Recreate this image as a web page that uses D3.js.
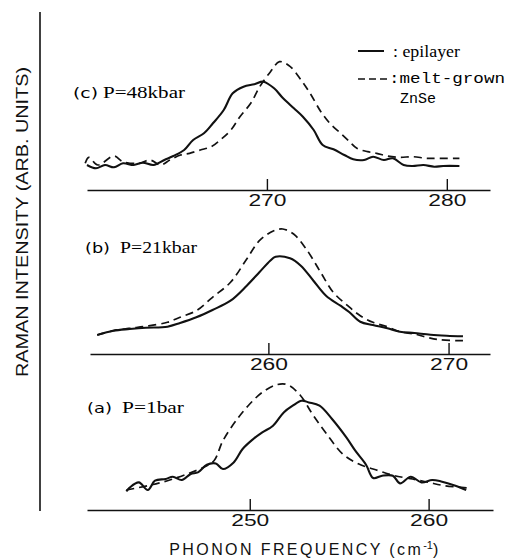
<!DOCTYPE html>
<html>
<head>
<meta charset="utf-8">
<script src="https://cdn.jsdelivr.net/npm/d3@7"></script>
<style>
  body { margin: 0; background: #fff; }
  svg { display: block; }
</style>
</head>
<body>
<div id="chart"></div>
<script>
// panels from top to bottom
const panelNames = ["(c)", "(b)", "(a)"];
const pressures = ["P=48kbar", "P=21kbar", "P=1bar"];
const xDomains = [[260, 282.4], [250.1, 272.3], [240.9, 263.6]];
const tickValues = [[270, 280], [260, 270], [250, 260]];

// [frequency (cm-1), intensity (arb.)]
const epiC = [[260.0,25],[260.5,21.7],[261.0,25],[261.5,22.7],[262.0,26.7],[262.6,25],[263.1,27.3],[263.7,25],
  [264.3,30],[264.8,34],[265.4,40],[265.9,50],[266.5,56.7],[267.0,66.7],[267.6,80],[268.1,96.7],[268.7,103.3],
  [269.3,105.7],[269.8,108.3],[270.4,101.7],[270.9,91.7],[271.5,81.7],[272.0,73.3],[272.6,60],[273.1,45],
  [273.7,40.7],[274.3,35],[274.8,30.7],[275.4,30],[275.9,33.3],[276.5,30],[277.0,31.7],[277.6,25],[278.1,24],
  [278.7,25],[279.3,23.3],[279.8,24],[280.7,24]];
const meltC = [[259.9,26.7],[260.1,32.7],[260.6,25],[261.5,34],[262.0,28.3],[262.9,26.7],[263.5,30],[264.1,25],
  [264.6,30],[265.2,35],[265.7,36.7],[266.3,40],[266.9,43.3],[267.4,50],[268.0,60],[268.5,73.3],[269.1,86.7],
  [269.6,103.3],[270.2,118.3],[270.7,128.3],[271.3,123.3],[271.9,110],[272.4,96.7],[273.0,78.3],[273.5,66.7],
  [274.1,56.7],[274.6,48.3],[275.0,41.7],[275.6,38.3],[276.1,36.7],[276.7,34],[277.4,32.7],[278.1,33.3],
  [278.9,31.7],[279.6,31.7],[280.7,31.7]];

const epiB = [[250.5,19],[251.4,23.3],[252.3,25],[253.2,26.3],[254.4,27.3],[255.1,31],[256.0,36.7],[256.9,44],
  [257.9,53.3],[258.8,68.3],[259.5,81.7],[260.1,93.3],[260.4,97.3],[261.2,95.7],[261.8,88.3],[262.5,73.3],
  [263.2,58.3],[264.0,48.3],[264.5,41.7],[265.1,32.3],[265.8,29],[266.6,25.7],[267.3,22.3],[268.1,21],
  [269.0,19.3],[269.9,18.3],[270.8,17.7]];
const meltB = [[250.5,19],[251.4,23.3],[252.3,25.7],[253.2,27.7],[254.4,31.7],[255.1,36.7],[256.0,43.3],
  [256.9,56.7],[257.9,71.7],[258.8,95],[259.5,113.3],[260.3,123.3],[260.8,125],[261.4,120],[262.1,105],
  [262.9,81.7],[263.6,61.7],[264.4,48.3],[265.1,38.3],[265.8,31.7],[266.6,27.3],[267.3,22.3],[268.1,20],
  [268.8,16.7],[269.5,14.3],[270.8,13.3]];

const epiA = [[243.1,18.6],[243.3,22.6],[243.8,27.6],[244.3,20],[244.7,29.3],[245.3,31],[245.7,33.3],[246.2,30],
  [246.7,36],[247.1,37.6],[247.6,45.3],[248.1,46.6],[248.5,41],[249.1,47.6],[249.6,61],[250.2,71],[250.7,77.6],
  [251.3,84.3],[251.9,97.6],[252.4,104.3],[252.9,109.3],[253.3,107.6],[253.9,104.3],[254.6,91],[255.4,72.6],
  [255.9,59.3],[256.5,45.3],[256.9,32],[257.4,34.3],[258.0,34.3],[258.4,26.6],[259.0,33.3],[259.6,27.6],
  [260.2,30],[260.7,28.6],[261.5,24.3],[262.1,20]];
const meltA = [[243.1,20],[244.3,24.3],[245.4,29.3],[246.5,36],[247.4,42.6],[248.0,49.3],[248.5,69.3],[249.3,91],
  [250.0,106],[250.7,117.6],[251.5,125.3],[252.1,125.3],[252.8,115.3],[253.5,96],[254.3,76],[255.2,56],
  [256.1,46],[257.2,39.3],[258.1,34.3],[259.1,31],[260.0,27.6],[260.9,24.3],[262.2,22]];

const epiSeries = [epiC, epiB, epiA];
const meltSeries = [meltC, meltB, meltA];

const width = 507, height = 558;
const axisY = [190, 354, 510];
const xRanges = [[87, 490], [90, 490], [87, 493]];
const labelPos = [{x: 73, px: 103, pw: 82, y: 98}, {x: 85, px: 120, pw: 77, y: 253}, {x: 87, px: 122, pw: 62, y: 413}];

const svg = d3.select("#chart")
  .append("svg")
  .attr("width", width)
  .attr("height", height);

// left intensity line
svg.append("line")
  .attr("x1", 40).attr("y1", 12)
  .attr("x2", 40).attr("y2", 511)
  .attr("stroke", "#111")
  .attr("stroke-width", 1.6);

panelNames.forEach(function(name, i) {
  const x = d3.scaleLinear().domain(xDomains[i]).range(xRanges[i]);
  const y = d3.scaleLinear().domain([0, 140]).range([axisY[i], axisY[i] - 140]);

  const axis = svg.append("g")
    .attr("transform", "translate(0," + axisY[i] + ")")
    .call(d3.axisBottom(x).tickValues(tickValues[i]).tickSize(-11).tickSizeOuter(0).tickPadding(5));
  axis.select(".domain").attr("stroke", "#111").attr("stroke-width", 1.6);
  axis.selectAll(".tick line").attr("stroke", "#111").attr("stroke-width", 1.4);
  axis.selectAll(".tick text")
    .attr("fill", "#111")
    .attr("font-family", "Liberation Sans, Arial, sans-serif")
    .attr("font-size", 16)
    .attr("textLength", 38)
    .attr("lengthAdjust", "spacingAndGlyphs");

  const line = d3.line()
    .x(function(d) { return x(d[0]); })
    .y(function(d) { return y(d[1]); })
    .curve(d3.curveCatmullRom.alpha(0.5));

  svg.append("path")
    .datum(meltSeries[i])
    .attr("d", line)
    .attr("fill", "none")
    .attr("stroke", "#111")
    .attr("stroke-width", 1.7)
    .attr("stroke-dasharray", "8,5");

  svg.append("path")
    .datum(epiSeries[i])
    .attr("d", line)
    .attr("fill", "none")
    .attr("stroke", "#111")
    .attr("stroke-width", 2.1)
    .attr("stroke-linejoin", "round");

  const lp = labelPos[i];
  svg.append("text")
    .attr("x", lp.x).attr("y", lp.y)
    .attr("font-family", "DejaVu Sans, sans-serif")
    .attr("font-size", 14)
    .attr("textLength", 25)
    .attr("lengthAdjust", "spacingAndGlyphs")
    .text(name);
  svg.append("text")
    .attr("x", lp.px).attr("y", lp.y)
    .attr("font-family", "Liberation Serif, Times New Roman, serif")
    .attr("font-size", 16.5)
    .attr("textLength", lp.pw)
    .attr("lengthAdjust", "spacingAndGlyphs")
    .text(pressures[i]);
});

// legend
svg.append("line")
  .attr("x1", 358).attr("y1", 51).attr("x2", 384).attr("y2", 51)
  .attr("stroke", "#111").attr("stroke-width", 2);
svg.append("text")
  .attr("x", 393).attr("y", 57)
  .attr("font-family", "Liberation Serif, Times New Roman, serif")
  .attr("font-size", 16.5)
  .attr("textLength", 67)
  .attr("lengthAdjust", "spacingAndGlyphs")
  .text(": epilayer");
svg.append("line")
  .attr("x1", 358).attr("y1", 79).attr("x2", 387).attr("y2", 79)
  .attr("stroke", "#111").attr("stroke-width", 1.7)
  .attr("stroke-dasharray", "7,4");
svg.append("text")
  .attr("x", 389).attr("y", 83)
  .attr("font-family", "Liberation Mono, Courier New, monospace")
  .attr("font-size", 15)
  .attr("textLength", 116)
  .attr("lengthAdjust", "spacingAndGlyphs")
  .text(":melt-grown");
svg.append("text")
  .attr("x", 400).attr("y", 103)
  .attr("font-family", "Liberation Mono, Courier New, monospace")
  .attr("font-size", 15)
  .text("ZnSe");

// axis titles
const xTitle = svg.append("text")
  .attr("x", 305).attr("y", 555)
  .attr("text-anchor", "middle")
  .attr("font-family", "Liberation Sans, Arial, sans-serif")
  .attr("font-size", 16)
  .attr("letter-spacing", 2.4)
  .attr("fill", "#111");
xTitle.append("tspan").text("PHONON FREQUENCY (cm");
xTitle.append("tspan").attr("font-size", 11).attr("dy", -6).attr("letter-spacing", 0).text("-1");
xTitle.append("tspan").attr("dy", 6).text(")");

svg.append("text")
  .attr("transform", "translate(28,222) rotate(-90)")
  .attr("text-anchor", "middle")
  .attr("font-family", "Liberation Sans, Arial, sans-serif")
  .attr("font-size", 16)
  .attr("textLength", 310)
  .attr("lengthAdjust", "spacingAndGlyphs")
  .attr("fill", "#111")
  .text("RAMAN INTENSITY (ARB. UNITS)");
</script>
</body>
</html>
